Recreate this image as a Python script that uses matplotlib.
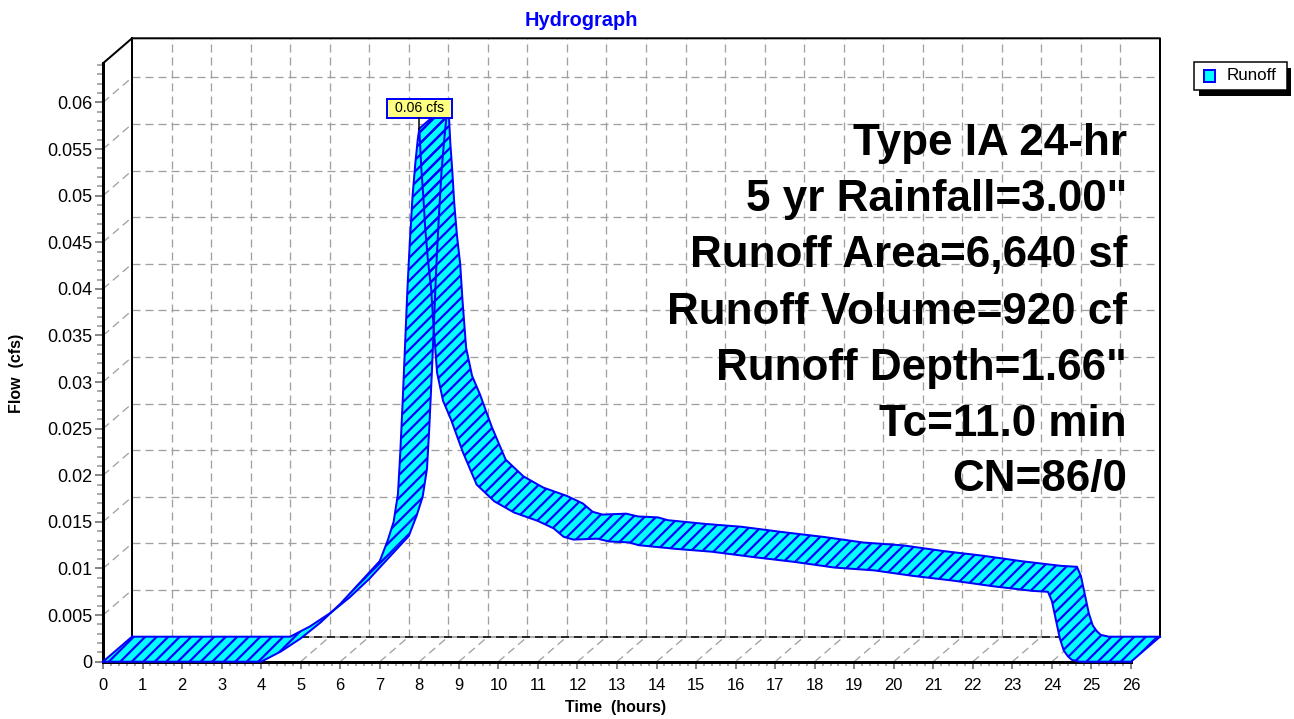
import numpy as np
import matplotlib
matplotlib.use('Agg')
import matplotlib.pyplot as plt
from matplotlib.collections import PolyCollection
from matplotlib.patches import Rectangle
from matplotlib.transforms import IdentityTransform

# runoff hydrograph (front edge of the ribbon)
hours = [0, 4.0, 4.5, 5.0, 5.5, 6.0, 6.5, 7.0, 7.2, 7.35, 7.46, 7.52, 7.58,
         7.64, 7.70, 7.76, 7.83, 7.90, 7.96, 8.0, 8.05, 8.10, 8.15, 8.22,
         8.30, 8.36, 8.45, 8.6, 8.8, 9.1, 9.45, 9.9, 10.4, 11.0, 11.4, 11.65,
         11.9, 12.5, 12.8, 13.3, 13.55, 14.5, 15.4, 16.5, 17.5, 18.5, 19.5,
         20.5, 21.5, 22.5, 23.5, 23.9, 24.0, 24.1, 24.2, 24.3, 24.4, 24.5,
         24.7, 26]
flow = [0, 0, 0.0011, 0.0025, 0.0042, 0.0062, 0.0085, 0.0108, 0.0130, 0.0150,
        0.0180, 0.0225, 0.028, 0.034, 0.040, 0.045, 0.050, 0.0535, 0.056,
        0.0572, 0.053, 0.050, 0.0465, 0.043, 0.040, 0.036, 0.031, 0.028,
        0.026, 0.0225, 0.019, 0.0172, 0.016, 0.0151, 0.0143, 0.0134, 0.0131,
        0.0132, 0.0129, 0.0128, 0.0125, 0.0121, 0.0118, 0.0112, 0.0107,
        0.0101, 0.0098, 0.0092, 0.0087, 0.0081, 0.0076, 0.0075, 0.0065,
        0.0045, 0.0025, 0.0012, 0.0006, 0.0002, 0.0, 0.0]

x_ticks = list(range(0, 27))
y_ticks = [0, 0.005, 0.01, 0.015, 0.02, 0.025, 0.03, 0.035, 0.04, 0.045,
           0.05, 0.055, 0.06]
y_tick_labels = ['0', '0.005', '0.01', '0.015', '0.02', '0.025', '0.03',
                 '0.035', '0.04', '0.045', '0.05', '0.055', '0.06']

title = 'Hydrograph'
series_name = 'Runoff'
notes = ['Type IA 24-hr', '5 yr Rainfall=3.00"', 'Runoff Area=6,640 sf',
         'Runoff Volume=920 cf', 'Runoff Depth=1.66"', 'Tc=11.0 min',
         'CN=86/0']

DPI = 138
W, H = 1294, 719


def pt(px):
    # pixels -> points
    return px * 72 / DPI


plt.rcParams['font.family'] = ['Liberation Sans', 'DejaVu Sans']
plt.rcParams['hatch.color'] = '#0000ff'
plt.rcParams['hatch.linewidth'] = pt(2.2)
plt.rcParams['lines.scale_dashes'] = False

XMAX, YMAX = 26, 0.0642
fig = plt.figure(figsize=(W / DPI, H / DPI), dpi=DPI)
ax = fig.add_axes([103 / W, 57.3 / H, 1028 / W, 598.4 / H])
ax.set_xlim(0, XMAX)
ax.set_ylim(0, YMAX)
ax.patch.set_visible(False)

# depth of the 3d box in data units (29 px right, 25 px up)
DX = 29 / 1028 * XMAX
DY = 25 / 598.4 * YMAX

# dashed grid on back wall, floor and left wall
dash = (0, (pt(8), pt(5)))
grid = dict(color='#a0a0a0', lw=pt(1.3), ls=dash, clip_on=False, zorder=1)
for t in x_ticks[1:-1]:
    ax.plot([t + DX, t + DX], [DY, YMAX + DY], **grid)
    ax.plot([t, t + DX], [0, DY], **grid)
for q in y_ticks[1:]:
    ax.plot([DX, XMAX + DX], [q + DY, q + DY], **grid)
    ax.plot([0, DX], [q, q + DY], **grid)

# box edges
edge = dict(color='black', lw=pt(2), clip_on=False, zorder=2)
ax.plot([0, DX, XMAX + DX, XMAX + DX], [YMAX, YMAX + DY, YMAX + DY, DY], **edge)
ax.plot([DX, DX], [DY, YMAX + DY], **edge)
ax.plot([DX, XMAX + DX], [DY, DY], color='#909090', lw=pt(1.5), clip_on=False, zorder=1.5)
ax.plot([DX, XMAX + DX], [DY, DY], color='black', lw=pt(1.5), ls=dash, clip_on=False, zorder=1.6)

# ribbon
h = np.array(hours)
f = np.array(flow)
polys = [[(h[i], f[i]), (h[i + 1], f[i + 1]), (h[i + 1] + DX, f[i + 1] + DY),
          (h[i] + DX, f[i] + DY)] for i in range(len(h) - 1)]
ax.add_collection(PolyCollection(polys, facecolors='#00ffff', edgecolors='#00ffff',
                                 linewidths=pt(0.8), clip_on=False, zorder=3))
ax.add_collection(PolyCollection(polys, facecolors=(0, 0, 0, 0), edgecolors='#0000ff',
                                 linewidths=0, hatch='////', clip_on=False, zorder=4))
line = dict(color='#0000ff', lw=pt(2), clip_on=False, zorder=5, solid_joinstyle='round')
ax.plot(h, f, **line)
ax.plot(h + DX, f + DY, **line)
ipk = int(np.argmax(f))
for i in (0, len(h) - 1, ipk):
    ax.plot([h[i], h[i] + DX], [f[i], f[i] + DY], **line)

# axes, ticks
for s in ('top', 'right'):
    ax.spines[s].set_visible(False)
for s in ('left', 'bottom'):
    ax.spines[s].set_linewidth(pt(3))
ax.set_xticks(x_ticks)
ax.set_xticklabels([str(t) for t in x_ticks])
ax.set_xticks(np.arange(0, XMAX + 0.01, 0.2), minor=True)
ax.set_yticks(y_ticks)
ax.set_yticklabels(y_tick_labels)
ax.set_yticks(np.arange(0, YMAX, 0.001), minor=True)
ax.tick_params(axis='x', which='major', length=pt(7), width=pt(1.5), color='#606060',
               pad=pt(9), labelsize=pt(16.5))
ax.tick_params(axis='x', which='minor', length=pt(4), width=pt(1.5), color='#909090')
ax.tick_params(axis='y', which='major', length=pt(8), width=pt(1.5), color='#606060',
               pad=pt(3), labelsize=pt(18))
ax.tick_params(axis='y', which='minor', length=pt(6), width=pt(1.5), color='#909090')

# texts
fig.text(581 / W, 1 - 26 / H, title, ha='center', va='baseline', fontsize=pt(20),
         weight='bold', color='#0000ff')
fig.text(616 / W, 1 - 712 / H, 'Time  (hours)', ha='center', va='baseline',
         fontsize=pt(16), weight='bold')
fig.text(17 / W, 1 - 373 / H, 'Flow  (cfs)', rotation=90, ha='center', va='center',
         fontsize=pt(16), weight='bold')
for i, s in enumerate(notes):
    fig.text(1127 / W, 1 - (155.5 + 56 * i) / H, s, ha='right', va='baseline',
             fontsize=pt(44), weight='bold')

# peak label
px, py = ax.transData.transform((h[ipk], f[ipk]))
fig.add_artist(plt.Line2D([px, px], [py, py + 11], transform=IdentityTransform(),
                          color='black', lw=pt(1.5)))
fig.add_artist(Rectangle((px - 32.5, py + 11), 65, 19, transform=IdentityTransform(),
                         fc='#ffff80', ec='#0000ff', lw=pt(2)))
fig.text(px, py + 20.5, f'{f[ipk]:.2f} cfs', transform=IdentityTransform(),
         ha='center', va='center', fontsize=pt(14))

# legend
fig.add_artist(Rectangle((1199, H - 96), 92, 28, transform=IdentityTransform(),
                         fc='black', ec='none'))
fig.add_artist(Rectangle((1194, H - 90), 93, 28, transform=IdentityTransform(),
                         fc='white', ec='black', lw=pt(1.5)))
fig.add_artist(Rectangle((1204, H - 82), 11, 12, transform=IdentityTransform(),
                         fc='#00ffff', ec='#0000ff', lw=pt(2)))
fig.text(1227, H - 76, series_name, transform=IdentityTransform(), ha='left',
         va='center', fontsize=pt(17))

fig.savefig('out.png', dpi=DPI)
